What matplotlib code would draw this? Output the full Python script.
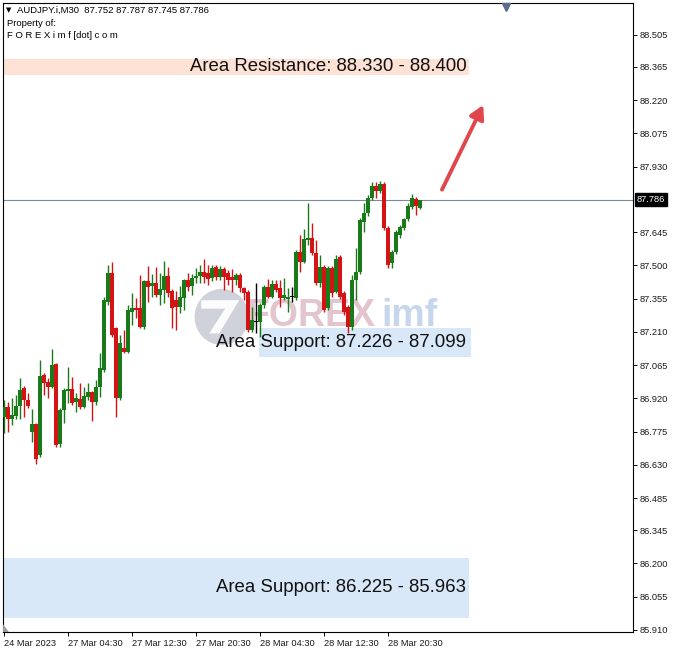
import matplotlib
matplotlib.use("Agg")
import matplotlib.pyplot as plt
from matplotlib.patches import Rectangle, Ellipse, Polygon
from matplotlib import transforms
import numpy as np

# ---------------- data (AUDJPY.i, M30) ----------------
opens = [86.838, 86.882, 86.832, 86.843, 86.886, 86.965, 86.913, 86.773, 86.808, 86.673,
         87.022, 86.991, 86.969, 87.070, 86.721, 86.869, 86.952, 86.961, 86.904, 86.917,
         86.882, 86.926, 86.948, 86.904, 86.969, 87.043, 87.340, 87.466, 87.227, 86.921,
         87.139, 87.122, 87.296, 87.314, 87.314, 87.231, 87.432, 87.410, 87.424, 87.370,
         87.392, 87.453, 87.388, 87.349, 87.318, 87.357, 87.436, 87.410, 87.445, 87.453,
         87.471, 87.466, 87.445, 87.493, 87.449, 87.484, 87.466, 87.449, 87.436, 87.458,
         87.401, 87.384, 87.218, 87.253, 87.253, 87.327, 87.405, 87.362, 87.419, 87.401,
         87.357, 87.353, 87.362, 87.357, 87.558, 87.514, 87.610, 87.619, 87.554, 87.424,
         87.493, 87.314, 87.488, 87.384, 87.536, 87.379, 87.318, 87.231, 87.436, 87.471,
         87.689, 87.728, 87.794, 87.846, 87.824, 87.855, 87.663, 87.510, 87.558, 87.632,
         87.663, 87.702, 87.754, 87.789, 87.752]
highs = [86.913, 86.904, 86.921, 86.935, 87.009, 86.974, 86.943, 86.873, 86.812, 87.087,
         87.030, 87.009, 87.135, 87.074, 86.878, 86.965, 87.056, 87.013, 86.943, 86.987,
         86.969, 86.987, 86.952, 87.000, 87.118, 87.362, 87.501, 87.514, 87.231, 87.196,
         87.218, 87.327, 87.379, 87.357, 87.458, 87.436, 87.497, 87.462, 87.493, 87.466,
         87.519, 87.493, 87.397, 87.388, 87.410, 87.440, 87.466, 87.462, 87.488, 87.501,
         87.528, 87.501, 87.501, 87.501, 87.497, 87.493, 87.480, 87.484, 87.466, 87.466,
         87.405, 87.392, 87.318, 87.424, 87.336, 87.414, 87.440, 87.436, 87.436, 87.436,
         87.445, 87.401, 87.405, 87.567, 87.632, 87.658, 87.772, 87.684, 87.610, 87.545,
         87.501, 87.497, 87.497, 87.545, 87.545, 87.388, 87.327, 87.458, 87.575, 87.706,
         87.772, 87.807, 87.863, 87.863, 87.868, 87.863, 87.671, 87.567, 87.654, 87.676,
         87.706, 87.772, 87.811, 87.798, 87.787]
lows = [86.769, 86.773, 86.804, 86.832, 86.832, 86.838, 86.878, 86.729, 86.634, 86.664,
        86.935, 86.921, 86.965, 86.708, 86.708, 86.812, 86.900, 86.891, 86.860, 86.873,
        86.878, 86.913, 86.821, 86.891, 86.926, 87.035, 87.327, 87.187, 86.838, 86.913,
        87.118, 87.118, 87.240, 87.270, 87.227, 87.222, 87.340, 87.362, 87.362, 87.327,
        87.336, 87.362, 87.227, 87.218, 87.292, 87.305, 87.388, 87.370, 87.424, 87.424,
        87.424, 87.414, 87.432, 87.436, 87.436, 87.392, 87.414, 87.384, 87.414, 87.384,
        87.349, 87.209, 87.209, 87.205, 87.187, 87.314, 87.357, 87.357, 87.384, 87.318,
        87.349, 87.296, 87.340, 87.349, 87.471, 87.510, 87.589, 87.545, 87.414, 87.405,
        87.296, 87.305, 87.362, 87.379, 87.353, 87.283, 87.205, 87.218, 87.349, 87.462,
        87.645, 87.715, 87.785, 87.794, 87.815, 87.654, 87.488, 87.488, 87.549, 87.619,
        87.654, 87.693, 87.746, 87.719, 87.745]
closes = [86.882, 86.832, 86.847, 86.886, 86.957, 86.913, 86.886, 86.808, 86.655, 87.017,
          86.987, 86.969, 87.065, 86.716, 86.869, 86.957, 86.961, 86.900, 86.921, 86.882,
          86.930, 86.948, 86.904, 86.969, 87.052, 87.349, 87.466, 87.196, 86.921, 87.161,
          87.122, 87.305, 87.314, 87.305, 87.231, 87.432, 87.405, 87.424, 87.370, 87.397,
          87.453, 87.379, 87.314, 87.318, 87.362, 87.436, 87.405, 87.445, 87.453, 87.471,
          87.449, 87.440, 87.488, 87.449, 87.484, 87.449, 87.436, 87.436, 87.458, 87.401,
          87.379, 87.218, 87.262, 87.253, 87.327, 87.405, 87.362, 87.419, 87.392, 87.357,
          87.370, 87.362, 87.362, 87.558, 87.514, 87.615, 87.619, 87.554, 87.424, 87.493,
          87.305, 87.488, 87.379, 87.528, 87.362, 87.296, 87.231, 87.436, 87.471, 87.698,
          87.728, 87.794, 87.846, 87.824, 87.855, 87.663, 87.501, 87.558, 87.645, 87.667,
          87.702, 87.759, 87.794, 87.759, 87.786]

ytick_values = [88.505, 88.365, 88.220, 88.075, 87.930, 87.645, 87.500, 87.355, 87.210,
                87.065, 86.920, 86.775, 86.630, 86.485, 86.345, 86.200, 86.055, 85.910]
xtick_bars = [0, 16, 32, 48, 64, 80, 96]
xtick_labels = ["24 Mar 2023", "27 Mar 04:30", "27 Mar 12:30", "27 Mar 20:30",
                "28 Mar 04:30", "28 Mar 12:30", "28 Mar 20:30"]
last_price = 87.786
resistance_zone = (88.330, 88.400)
support_zone_1 = (87.099, 87.226)
support_zone_2 = (85.963, 86.225)
header = "AUDJPY.i,M30  87.752 87.787 87.745 87.786"

# ---------------- figure ----------------
W, H = 674, 654
fig = plt.figure(figsize=(W / 100, H / 100), dpi=100)
fig.patch.set_facecolor("white")
ax = fig.add_axes([3 / W, (H - 632) / H, 630 / W, 629 / H])
ax.set_xlim(-0.25, 157.25)
ax.set_ylim(85.901, 88.644)

FONT = ["Liberation Sans", "DejaVu Sans"]
GREEN = "#1a7a1a"
RED = "#d41414"

# zones
ax.add_patch(Rectangle((-1, resistance_zone[0]), 117.2, resistance_zone[1] - resistance_zone[0],
                       facecolor="#fde2d5", edgecolor="none", zorder=1))
ax.add_patch(Rectangle((63.8, support_zone_1[0]), 53.0, support_zone_1[1] - support_zone_1[0],
                       facecolor="#d9e8f8", edgecolor="none", zorder=1))
ax.add_patch(Rectangle((-1, support_zone_2[0]), 117.2, support_zone_2[1] - support_zone_2[0],
                       facecolor="#d9e8f8", edgecolor="none", zorder=1))

# watermark
wm_y = 87.280
ax.add_patch(Ellipse((54.4, wm_y - 0.005), 13.5, 0.245, facecolor="#c4c7d2", edgecolor="none",
                     alpha=0.8, zorder=1.5))
ax.add_patch(Polygon([(49.3, wm_y + 0.068), (58.8, wm_y + 0.068), (53.8, wm_y - 0.077),
                      (51.3, wm_y - 0.077), (55.3, wm_y + 0.031), (49.3, wm_y + 0.031)],
                     closed=True, facecolor="white", edgecolor="none", alpha=0.95, zorder=1.6))
ax.text(60.6, wm_y, "FOREX", fontsize=27, fontweight="bold", color="#dfbfca", alpha=0.9,
        va="center", ha="left", family=FONT, zorder=1.6)
ax.text(94.4, wm_y, "imf", fontsize=27, fontweight="bold", color="#c0d3ec", alpha=0.9,
        va="center", ha="left", family=FONT, zorder=1.6)

# price line
ax.axhline(last_price, color="#7a8a98", lw=0.8, zorder=2)

# candles
idx = np.arange(len(opens))
o = np.array(opens); c = np.array(closes); hi = np.array(highs); lo = np.array(lows)
cols = np.where(c > o, GREEN, np.where(c < o, RED, "black"))
ax.vlines(idx, lo, hi, colors=cols, lw=1.0, zorder=3)
bottoms = np.minimum(o, c)
heights = np.maximum(np.abs(c - o), 0.004)
ax.bar(idx, heights, bottom=bottoms, width=0.82, color=cols, edgecolor="none", zorder=4)

# zone labels
for zone, label in [(resistance_zone, "Area Resistance: 88.330 - 88.400"),
                    (support_zone_1, "Area Support: 87.226 - 87.099"),
                    (support_zone_2, "Area Support: 86.225 - 85.963")]:
    ax.text(115.6, np.mean(zone), label, fontsize=13.4, ha="right", va="center",
            family=FONT, color="#111111", zorder=6)

# arrow
ax.annotate("", xy=(119.8, 88.199), xytext=(109.5, 87.830),
            arrowprops=dict(arrowstyle="-|>,head_length=0.8,head_width=0.45", color="#e0474c",
                            lw=2.8, shrinkA=0, shrinkB=0), zorder=6)

# axes styling
for s in ax.spines.values():
    s.set_color("black")
    s.set_linewidth(0.8)
ax.yaxis.tick_right()
ax.set_yticks(ytick_values)
ax.set_yticklabels([f"{v:.3f}" for v in ytick_values])
ax.set_xticks(xtick_bars)
ax.set_xticklabels(xtick_labels)
ax.tick_params(axis="both", direction="out", length=3, width=0.7, color="black",
               labelsize=6.7, pad=2)
for lbl in ax.get_yticklabels() + ax.get_xticklabels():
    lbl.set_family(FONT)
    lbl.set_color("#1a1a1a")
for lbl in ax.get_xticklabels():
    lbl.set_ha("left")

# last price tag on axis
trans = transforms.blended_transform_factory(ax.transAxes, ax.transData)
ax.text(1.006, last_price, "87.786", transform=trans, fontsize=6.7, color="white",
        ha="left", va="center", family=FONT, zorder=10, clip_on=False,
        bbox=dict(boxstyle="square,pad=0.2", facecolor="black", edgecolor="black"))

# small markers
ax.plot([125.5], [88.625], marker="v", color="#5a6b8c", markersize=6, clip_on=False, zorder=10)
ax.add_patch(Polygon([(-0.25, 85.901), (-0.25, 85.935), (1.2, 85.901)], closed=True,
                     facecolor="#9a9a9a", edgecolor="none", zorder=10))

# header text
fig.text(6 / W, 1 - 10 / H, "\u25bc", fontsize=5, family=["DejaVu Sans"], va="center", ha="left")
fig.text(17 / W, 1 - 10 / H, header, fontsize=6.8, family=FONT, va="center", ha="left")
fig.text(7 / W, 1 - 23 / H, "Property of:", fontsize=6.8, family=FONT, va="center", ha="left")
fig.text(7 / W, 1 - 36 / H, "F O R E X i m f [dot] c o m", fontsize=6.8, family=FONT,
         va="center", ha="left")

fig.savefig("out.png", dpi=100, facecolor="white")
